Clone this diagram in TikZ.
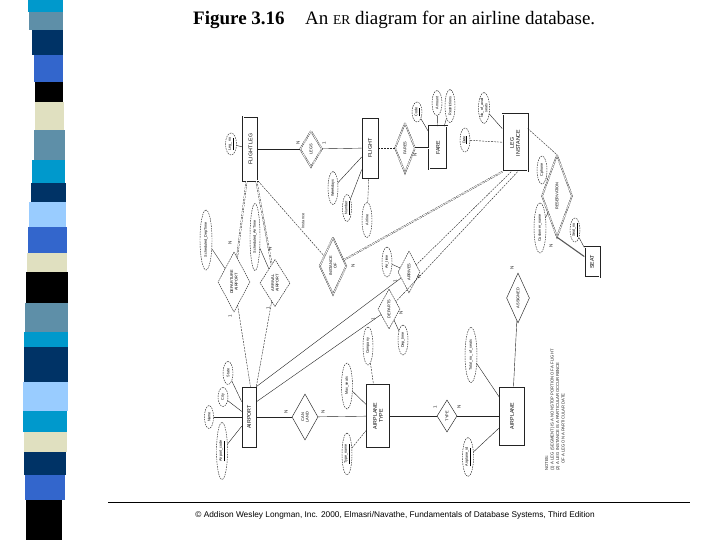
\documentclass[tikz,border=0pt]{standalone}
\usepackage{fontspec}
\setmainfont{Liberation Serif}
\newfontfamily\arial{Liberation Sans}
\usetikzlibrary{shapes.geometric,calc}
\definecolor{scyan}{RGB}{0,153,204}
\definecolor{ssteel}{RGB}{94,143,168}
\definecolor{snavy}{RGB}{0,51,102}
\definecolor{sroyal}{RGB}{51,102,204}
\definecolor{sbeige}{RGB}{224,224,192}
\definecolor{slight}{RGB}{153,204,255}
\definecolor{ink}{RGB}{35,35,35}
\tikzset{
  ent/.style={draw=ink, rectangle, rotate=90, inner sep=0.5pt, align=center, font=\arial\fontsize{5.3}{5.9}\selectfont, line width=0.6pt},
  weak/.style={ent, double, double distance=1pt, line width=0.5pt},
  rel/.style={draw=ink, diamond, rotate=90, inner sep=0pt, align=center, font=\arial\fontsize{3.9}{4.4}\selectfont, line width=0.45pt, dash pattern=on 1.6pt off 0.8pt},
  idrel/.style={rel, double, double distance=0.8pt, line width=0.4pt},
  attr/.style={draw=ink, ellipse, rotate=90, inner sep=0pt, align=center, font=\arial\fontsize{3.7}{4.2}\selectfont, line width=0.45pt, dash pattern=on 1.5pt off 1pt},
  lnk/.style={draw=ink, line width=0.4pt},
  dlnk/.style={draw=ink, line width=0.4pt, dash pattern=on 2pt off 1pt},
  dbl/.style={draw=ink, line width=0.35pt, double, double distance=0.9pt},
  ddbl/.style={dbl, dash pattern=on 2pt off 1pt},
  card/.style={rotate=90, font=\arial\fontsize{4.6}{5}\selectfont, inner sep=0pt, text=ink},
}
\begin{document}
\begin{tikzpicture}[x=1pt,y=-1pt]
\useasboundingbox (0,0) rectangle (720,540);
\fill[white] (0,0) rectangle (720,540);
% decorative stripe bar
\foreach \ya/\yb/\xa/\xb/\c in {0/12/28/63/scyan, 12/30/29/63/ssteel, 30/55/32/63/snavy, 55/82/34/63/sroyal, 82/102/35/63/black, 102/130/35/64/sbeige, 130/160/34/65/ssteel, 160/183/32/65/scyan, 183/202/31/66/snavy, 202/227/29/66/slight, 227/253/28/67/sroyal, 253/272/27/67/sbeige, 272/303/26/68/black, 303/332/25/68/ssteel, 332/347/24/68/scyan, 347/382/24/68/snavy, 382/411/23/68/slight, 411/432/23/67/scyan, 432/452/24/67/sbeige, 452/475/24/66/snavy, 475/500/25/65/sroyal, 500/540/26/62/black}
  {\fill[\c] (\xa,\ya) rectangle (\xb,\yb+0.3);}
% title
\node[anchor=base west, inner sep=0, font=\fontsize{19}{21}\selectfont\bfseries] (T1) at (193,25) {Figure 3.16};
\node[anchor=base west, inner sep=0, font=\fontsize{19}{21}\selectfont] (T2) at (305,25) {An {\fontsize{13.5}{15}\selectfont ER} diagram for an airline database.};
% footer
\draw[line width=0.7pt] (108,502) -- (690,502);
\node[inner sep=0, font=\arial\fontsize{8.3}{9}\selectfont] (CR) at (395,515) {© Addison Wesley Longman, Inc. 2000, Elmasri/Navathe, Fundamentals of Database Systems, Third Edition};

% entities
\node[weak, minimum width=64pt, minimum height=15pt] (FL) at (250.5,149) {FLIGHT LEG};
\node[ent, minimum width=60pt, minimum height=16pt] (FLT) at (370,148) {FLIGHT};
\node[weak, minimum width=43pt, minimum height=18pt] (FARE) at (438,148) {FARE};
\node[weak, minimum width=57pt, minimum height=25pt] (LI) at (515,143) {LEG\\INSTANCE};
\node[weak, minimum width=30pt, minimum height=15pt] (SEAT) at (592,262) {SEAT};
\node[ent, minimum width=60pt, minimum height=14pt] (AP) at (249,417) {AIRPORT};
\node[ent, minimum width=63pt, minimum height=23pt] (APT) at (378,416) {AIRPLANE\\TYPE};
\node[ent, minimum width=58pt, minimum height=25pt] (PL) at (512,416) {AIRPLANE};

% relationships
\node[idrel, minimum width=36pt, minimum height=22pt] (LEGS) at (311,149) {LEGS};
\node[idrel, minimum width=50pt, minimum height=20pt] (FARES) at (405,148) {FARES};
\node[idrel, minimum width=57pt, minimum height=23pt] (IO) at (333,266) {INSTANCE\\OF};
\node[rel, minimum width=60pt, minimum height=32pt] (DA) at (234,282) {DEPARTURE\\AIRPORT};
\node[rel, minimum width=47pt, minimum height=30pt] (AA) at (275,283) {ARRIVAL\\AIRPORT};
\node[rel, minimum width=42pt, minimum height=22pt] (ARR) at (409,272) {ARRIVES};
\node[rel, minimum width=40pt, minimum height=22pt] (DEP) at (389,309) {DEPARTS};
\node[rel, solid, minimum width=46pt, minimum height=26pt] (CL) at (305,417) {CAN\\LAND};
\node[rel, solid, minimum width=32pt, minimum height=20pt] (TYPE) at (447,416) {TYPE};
\node[rel, solid, minimum width=50pt, minimum height=22pt] (ASG) at (518,298) {ASSIGNED};
\node[idrel, minimum width=82pt, minimum height=28pt] (RES) at (557,196) {RESERVATION};

% attributes
\node[attr, minimum width=22pt, minimum height=11pt] (LegNo) at (231,144) {\underline{Leg\_no}};
\node[attr, minimum width=33pt, minimum height=10pt] (Wkd) at (333,188) {Weekdays};
\node[attr, minimum width=27pt, minimum height=9pt] (Num) at (347,208) {\underline{Number}};
\node[attr, minimum width=35pt, minimum height=10pt] (Airl) at (367,220) {Airline};
\node[attr, minimum width=20pt, minimum height=10pt] (Code) at (417,112) {\underline{Code}};
\node[attr, minimum width=25pt, minimum height=10pt] (Amt) at (437,103) {Amount};
\node[attr, minimum width=33pt, minimum height=10pt] (Restr) at (450,106) {Restrictions};
\node[attr, minimum width=24pt, minimum height=10pt] (Date) at (465,140) {\underline{Date}};
\node[attr, minimum width=31pt, minimum height=11pt] (NAS) at (484,108) {No\_of\_avail\\seats};
\node[attr, minimum width=28pt, minimum height=10pt] (Phone) at (542,170) {Cphone};
\node[attr, minimum width=50pt, minimum height=12pt] (CName) at (540,228) {Customer\_name};
\node[attr, minimum width=24pt, minimum height=10pt] (SNo) at (575,230) {\underline{Seat\_no}};
\node[attr, minimum width=60pt, minimum height=12pt] (SDT) at (206,240) {Scheduled\_DepTime};
\node[attr, minimum width=67pt, minimum height=10pt] (SAT) at (255,237) {Scheduled\_ArrTime};
\node[attr, minimum width=30pt, minimum height=10pt] (ArrT) at (387,262) {Arr\_time};
\node[attr, minimum width=30pt, minimum height=10pt] (DepT) at (403,340) {Dep\_time};
\node[attr, minimum width=23pt, minimum height=10pt] (State) at (228,373) {State};
\node[attr, minimum width=19pt, minimum height=10pt] (City) at (223,397) {City};
\node[attr, minimum width=23pt, minimum height=9pt] (Name) at (209,417) {Name};
\node[attr, minimum width=57pt, minimum height=11pt] (ACode) at (222,451) {\underline{Airport\_code}};
\node[attr, minimum width=38pt, minimum height=10pt] (Comp) at (368,346) {Company};
\node[attr, minimum width=46pt, minimum height=11pt] (MaxS) at (347,386) {Max\_seats};
\node[attr, minimum width=42pt, minimum height=10pt] (TName) at (347,454) {\underline{Type\_name}};
\node[attr, minimum width=55pt, minimum height=12pt] (TotS) at (471,355) {Total\_no\_of\_seats};
\node[attr, minimum width=39pt, minimum height=11pt] (PlId) at (468,457) {\underline{Airplane\_id}};
\node[card, font=\arial\fontsize{3.9}{4}\selectfont] (InstLbl) at (303,221) {Instance};

% attribute links
\draw[lnk] (LegNo) -- (FL);
\draw[lnk] (Wkd) -- (FLT);
\draw[lnk] (Num) -- (FLT);
\draw[dlnk] (Airl) -- (FLT);
\draw[lnk] (Code) -- (FARE);
\draw[lnk] (Amt) -- (FARE);
\draw[lnk] (Restr) -- (FARE);
\draw[dlnk] (Date) -- (LI);
\draw[lnk] (NAS) -- (LI);
\draw[lnk] (Phone) -- (RES);
\draw[lnk] (CName) -- (RES);
\draw[lnk] (SNo) -- (SEAT);
\draw[lnk] (SDT) -- (DA);
\draw[lnk] (SAT) -- (AA);
\draw[lnk] (ArrT) -- (ARR);
\draw[lnk] (DepT) -- (DEP);
\draw[lnk] (State) -- (AP);
\draw[lnk] (City) -- (AP);
\draw[lnk] (Name) -- (AP);
\draw[lnk] (ACode) -- (AP);
\draw[dlnk] (Comp) -- (APT);
\draw[lnk] (MaxS) -- (APT);
\draw[dlnk] (TName) -- (APT);
\draw[lnk] (TotS) -- (PL);
\draw[lnk] (PlId) -- (PL);

% relationship links
\draw[lnk] (FL) -- (LEGS);
\draw[lnk] (LEGS) -- (FLT);
\draw[dlnk] (FLT) -- (FARES);
\draw[dbl] (FARES) -- (FARE);
\draw[dlnk] (FL.south west) -- (IO);
\draw[ddbl] (IO) -- (LI.north west);
\draw[ddbl] (FL) -- (DA);
\draw[ddbl] (FL) -- (AA);
\draw[dlnk] (DA) -- ($(AP.north east)!0.6!(AP.south east)$);
\draw[dlnk] (AA) -- (AP.south east);
\draw[lnk] (AP.south east) -- (ARR);
\draw[lnk] ($(AP.south east)!0.25!(AP.south west)$) -- (DEP);
\draw[dlnk] ($(LI.north west)!0.35!(LI.south west)$) -- (ARR);
\draw[dlnk] ($(LI.north west)!0.6!(LI.south west)$) -- (DEP);
\draw[lnk] (AP) -- (CL);
\draw[lnk] (CL) -- (APT);
\draw[lnk] (APT) -- (TYPE);
\draw[lnk] (TYPE) -- (PL);
\draw[lnk] (ASG) -- (PL);
\draw[dlnk] ($(LI.south east)!0.25!(LI.south west)$) -- (RES.east);
\draw[draw=gray!70!black, line width=1.1pt] (RES.west) -- (SEAT);

% cardinalities
\node[card] (c1) at (298,143) {N};
\node[card] (c2) at (324,143) {1};
\node[card] (c3) at (415,155) {N};
\node[card] (c4) at (353,266) {N};
\node[card] (c5) at (230,243) {N};
\node[card] (c6) at (230,316) {1};
\node[card] (c7) at (270,249) {N};
\node[card] (c8) at (268,308) {1};
\node[card] (c9) at (395,281) {1};
\node[card] (c10) at (419,277) {N};
\node[card] (c11) at (373,319) {1};
\node[card] (c12) at (401,313) {N};
\node[card] (c13) at (286,412) {N};
\node[card] (c14) at (323,412) {N};
\node[card] (c15) at (435,407) {1};
\node[card] (c16) at (459,407) {N};
\node[card] (c17) at (512,268) {N};
\node[card] (c18) at (551,246) {N};

% notes
\node[rotate=90, anchor=north west, align=left, inner sep=0, text=ink, font=\arial\fontsize{4.2}{5.5}\selectfont] (Notes) at (545,471)
 {NOTES:\\
 (1) A LEG (SEGMENT) IS A NONSTOP PORTION OF A FLIGHT\\
 (2) A LEG INSTANCE IS A PARTICULAR OCCURRENCE\\
 \hspace*{7pt}OF A LEG ON A PARTICULAR DATE};
\end{tikzpicture}
\end{document}
